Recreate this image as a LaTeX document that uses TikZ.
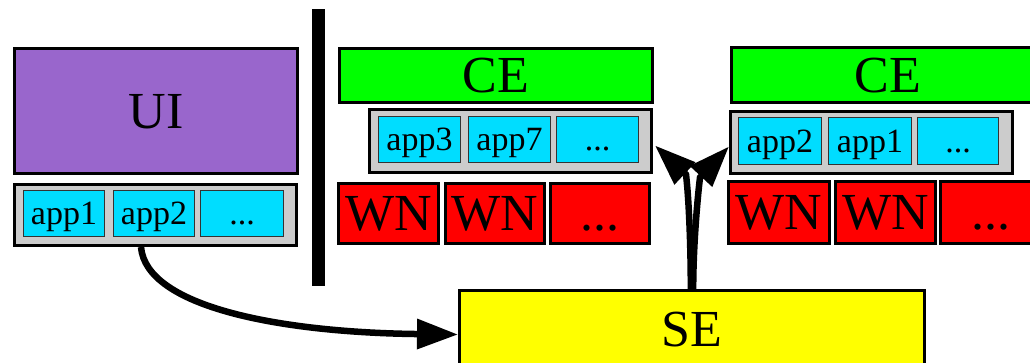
\documentclass[tikz,border=0pt]{standalone}
\usepackage{fontspec}
\setmainfont{Liberation Serif}
\usetikzlibrary{arrows.meta}
\definecolor{uipurple}{HTML}{9966CC}
\definecolor{appcyan}{HTML}{00DDFF}
\definecolor{holdgray}{HTML}{CCCCCC}
\definecolor{cegreen}{HTML}{00FF00}
\definecolor{wnred}{HTML}{FF0000}
\definecolor{seyellow}{HTML}{FFFF00}
\tikzset{
  bigbox/.style={draw=black, line width=3pt, inner sep=0pt, anchor=north west,
    font=\fontsize{52}{52}\selectfont, text height=35pt, text depth=0pt},
  holder/.style={draw=black, line width=3pt, fill=holdgray, inner sep=0pt, anchor=north west},
  appbox/.style={draw=black!80, line width=1pt, fill=appcyan, inner sep=0pt, anchor=north west,
    font=\fontsize{34}{34}\selectfont, text height=23pt, text depth=0pt,
    minimum height=46pt},
  wnbox/.style={bigbox, fill=wnred, minimum height=60pt},
  bigarrow/.style={line width=6.5pt, -{Triangle[length=41pt,width=29pt]}},
}
\begin{document}
\begin{tikzpicture}[x=1pt,y=-1pt]
\useasboundingbox (0,0) rectangle (1030,363);
% left: UI
\node[bigbox, fill=uipurple, minimum width=283pt, minimum height=125pt] (UI) at (13,47) {UI};
\node[holder, minimum width=282pt, minimum height=61pt] (appsL) at (13,183) {};
\node[appbox, minimum width=81pt] (appA) at (23,190) {app1};
\node[appbox, minimum width=81pt] (appB) at (113,190) {app2};
\node[appbox, minimum width=83pt] (appdL) at (200,190) {...};
% separator
\node[fill=black, inner sep=0pt, anchor=north west, minimum width=13pt, minimum height=277pt] (bar) at (312,9) {};
% middle CE
\node[bigbox, fill=cegreen, minimum width=313pt, minimum height=54pt] (CEa) at (338,47) {CE};
\node[holder, minimum width=282pt, minimum height=63pt] (appsC1) at (368,108) {};
\node[appbox, minimum width=82pt] (appC) at (378,116) {app3};
\node[appbox, minimum width=82pt] (appD) at (468,116) {app7};
\node[appbox, minimum width=82pt] (appdC1) at (556,116) {...};
\node[wnbox, minimum width=100pt] (WNa) at (337,182) {WN};
\node[wnbox, minimum width=99pt] (WNb) at (444,182) {WN};
\node[wnbox, minimum width=99pt] (WNc) at (549,182) {...};
% right CE
\node[bigbox, fill=cegreen, minimum width=313pt, minimum height=55pt] (CEb) at (730,46) {CE};
\node[holder, minimum width=282pt, minimum height=62pt] (appsC2) at (729,110) {};
\node[appbox, minimum width=83pt, minimum height=47pt] (appE) at (738,117) {app2};
\node[appbox, minimum width=83pt, minimum height=47pt] (appF) at (828,117) {app1};
\node[appbox, minimum width=81pt, minimum height=47pt] (appdC2) at (917,117) {...};
\node[wnbox, minimum width=101pt, minimum height=62pt] (WNd) at (727,180) {WN};
\node[wnbox, minimum width=100pt, minimum height=62pt] (WNe) at (834,180) {WN};
\node[wnbox, minimum width=100pt, minimum height=62pt] (WNf) at (939,180) {...};
% SE
\node[bigbox, fill=seyellow, minimum width=465pt, minimum height=76pt] (SE) at (458,289) {SE};
% connector end points
\coordinate (tipL) at ([shift={(2pt,-4.5pt)}]appsC1.east);
\coordinate (baseL) at ([shift={(31,29)}]tipL);
\coordinate (tipR) at ([yshift=-4pt]appsC2.west);
\coordinate (baseR) at ([shift={(-29,31)}]tipR);
% connectors
\draw[bigarrow] ([xshift=-13pt]appB.south |- appsL.south)
  .. controls +(5,60) and +(-178,-2) .. ([yshift=-6pt]SE.west);
\draw[bigarrow] ([xshift=-1.2pt]SE.north) .. controls +(0,-40) and +(3,25) .. (baseL) -- (tipL);
\draw[bigarrow] ([xshift=1.2pt]SE.north) .. controls +(0,-40) and +(-3,25) .. (baseR) -- (tipR);
\end{tikzpicture}
\end{document}
